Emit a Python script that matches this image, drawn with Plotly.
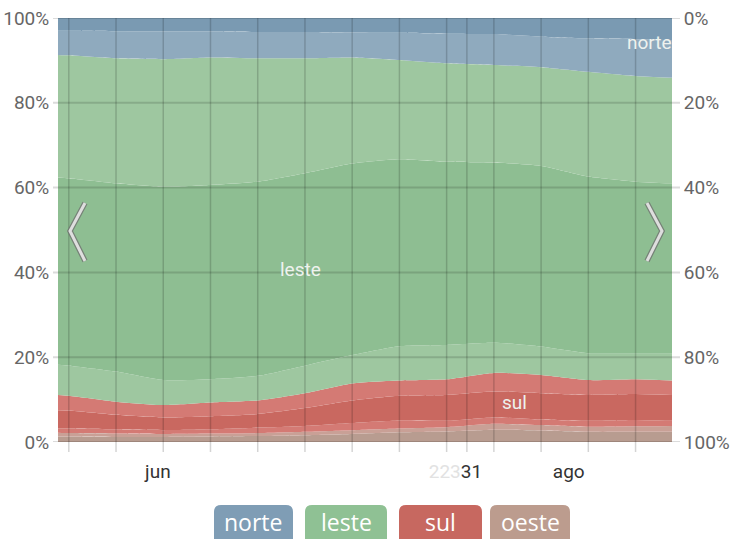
import plotly.graph_objects as go

# ---------------- data ----------------
# day offsets of the sampled points (x axis, days since the first sample)
dias = [0.0, 1.6, 8.6, 15.6, 22.6, 29.6, 36.6, 43.6, 50.6, 57.6, 64.6, 71.6, 78.6, 85.6, 91.0]

# upper boundary (%) of each band, from the bottom of the stack upwards
oeste_inf = [1.3, 1.3, 1.2, 1.2, 1.3, 1.4, 1.6, 1.9, 2.3, 2.5, 2.9, 2.7, 2.4, 2.4, 2.4]
oeste_sup = [2.2, 2.1, 2.0, 1.9, 2.0, 2.1, 2.4, 2.8, 3.2, 3.5, 4.3, 4.0, 3.6, 3.7, 3.8]
sul_inf = [3.2, 3.2, 3.0, 2.8, 3.0, 3.4, 3.8, 4.5, 5.1, 5.0, 5.8, 5.3, 5.0, 5.2, 5.0]
sul_med = [7.5, 7.4, 6.4, 5.8, 6.1, 6.6, 8.0, 9.8, 10.9, 11.1, 11.9, 11.5, 11.1, 11.3, 11.1]
sul_sup = [11.1, 10.9, 9.5, 8.7, 9.3, 9.8, 11.5, 13.8, 14.5, 14.8, 16.3, 15.8, 14.6, 14.8, 14.5]
leste_inf = [18.2, 18.0, 16.6, 14.6, 14.8, 15.6, 18.0, 20.5, 22.6, 22.9, 23.4, 22.5, 20.9, 20.8, 20.8]
leste_med = [62.4, 62.2, 61.0, 60.2, 60.6, 61.4, 63.4, 65.7, 66.7, 66.1, 65.9, 65.1, 62.6, 61.4, 61.0]
leste_sup = [91.3, 91.2, 90.5, 90.3, 90.7, 90.5, 90.5, 90.7, 90.1, 89.3, 88.9, 88.4, 87.3, 86.3, 85.9]
norte_inf = [97.0, 97.0, 96.9, 96.8, 96.8, 96.7, 96.7, 96.6, 96.5, 96.3, 96.2, 95.6, 95.2, 95.0, 94.8]
norte_sup = [100.0] * 15

# axis data
grid_dias = [1.6, 8.6, 15.6, 22.6, 29.6, 36.6, 43.6, 50.6, 57.6, 60.6, 64.6, 71.6, 78.6, 85.6]
rotulo_dias = [14.8, 58.9, 75.7]
rotulo_txt = ["jun", "<span style='color:#e2e2e2'>223</span>31", "ago"]
y_ticks = [0, 20, 40, 60, 80, 100]
y_txt_esq = ["0%", "20%", "40%", "60%", "80%", "100%"]
y_txt_dir = ["100%", "80%", "60%", "40%", "20%", "0%"]

categorias = ["norte", "leste", "sul", "oeste"]
cores_cat = ["#7f9db5", "#8fc194", "#c76860", "#bc9c8e"]

# in-chart labels
rot_cat = ["norte", "leste", "sul"]
rot_x = [87.7, 36.0, 67.7]
rot_y = [94.3, 40.6, 9.4]

# ---------------- figure ----------------
W, H = 733, 539
L, R, T, B = 58, 61, 18, 97
PW, PH = W - L - R, H - T - B


def px(x):
    return (x - L) / PW


def py(y):
    return (H - B - y) / PH


bandas = [
    (oeste_inf, "#b89c90"),
    (oeste_sup, "#c9a096"),
    (sul_inf, "#d47a74"),
    (sul_med, "#c96860"),
    (sul_sup, "#d47a74"),
    (leste_inf, "#9ec7a0"),
    (leste_med, "#8ebe92"),
    (leste_sup, "#9ec7a0"),
    (norte_inf, "#8faabe"),
    (norte_sup, "#7a9ab2"),
]

fig = go.Figure()
for i, (vals, cor) in enumerate(bandas):
    fig.add_trace(go.Scatter(
        x=dias, y=vals, mode="lines",
        line=dict(width=0, shape="spline", smoothing=0.6),
        fill="tozeroy" if i == 0 else "tonexty",
        fillcolor=cor, showlegend=False, hoverinfo="skip",
    ))

# dummy trace for the secondary axes
fig.add_trace(go.Scatter(x=[None], y=[None], xaxis="x2", yaxis="y2",
                         showlegend=False, hoverinfo="skip"))

NARROW = "Roboto, Liberation Sans, sans-serif"

shapes = []
for g in grid_dias:
    shapes.append(dict(type="line", xref="x", yref="paper", x0=g, x1=g,
                       y0=-10 / PH, y1=1, layer="above",
                       line=dict(color="rgba(0,0,0,0.17)", width=1.5)))
for v in y_ticks:
    shapes.append(dict(type="line", xref="paper", yref="y", x0=-5 / PW, x1=1 + 8 / PW,
                       y0=v, y1=v, layer="above",
                       line=dict(color="rgba(0,0,0,0.14)", width=2)))


def chevron(pts):
    d = "M {} {} L {} {} L {} {}".format(px(pts[0][0]), py(pts[0][1]),
                                         px(pts[1][0]), py(pts[1][1]),
                                         px(pts[2][0]), py(pts[2][1]))
    return [
        dict(type="path", xref="paper", yref="paper", path=d, layer="above",
             line=dict(color="rgba(110,110,110,0.75)", width=5.5)),
        dict(type="path", xref="paper", yref="paper", path=d, layer="above",
             line=dict(color="#dedede", width=3)),
    ]


shapes += chevron([(85, 203), (70, 231), (85, 261)])
shapes += chevron([(647, 203), (662, 231), (647, 261)])


def rrect(x0, x1, y0, y1, r=7):
    # rounded rectangle in pixels -> paper path
    rx, ry = r / PW, r / PH
    X0, X1, Y0, Y1 = px(x0), px(x1), py(y1), py(y0)  # Y0 bottom, Y1 top
    return ("M {a} {t} L {b} {t} Q {x1} {t} {x1} {tt} L {x1} {bb} Q {x1} {bo} {b} {bo} "
            "L {a} {bo} Q {x0} {bo} {x0} {bb} L {x0} {tt} Q {x0} {t} {a} {t} Z").format(
        a=X0 + rx, b=X1 - rx, t=Y1, tt=Y1 - ry, bo=Y0, bb=Y0 + ry, x0=X0, x1=X1)


botoes = [(214, 293), (305, 387), (399, 482), (490, 570)]
annotations = []
for (x0, x1), nome, cor in zip(botoes, categorias, cores_cat):
    shapes.append(dict(type="path", xref="paper", yref="paper",
                       path=rrect(x0, x1, 505, 548), fillcolor=cor,
                       line=dict(width=0), layer="above"))
    annotations.append(dict(xref="paper", yref="paper", x=px((x0 + x1) / 2), y=py(522),
                            text=nome, showarrow=False, xanchor="center", yanchor="middle",
                            font=dict(family="Open Sans, Noto Sans, sans-serif", size=23,
                                      color="#ffffff")))

for t, xx, yy in zip(rot_cat, rot_x, rot_y):
    annotations.append(dict(xref="x", yref="y", x=xx, y=yy, text=t, showarrow=False,
                            xanchor="center", yanchor="middle",
                            font=dict(family=NARROW, size=19, color="#eef2ee")))

xrange = [dias[0], dias[-1]]
fig.update_layout(
    width=W, height=H,
    margin=dict(l=L, r=R, t=T, b=B, pad=0, autoexpand=False),
    paper_bgcolor="white", plot_bgcolor="white",
    showlegend=False,
    shapes=shapes, annotations=annotations,
    xaxis=dict(range=xrange, showgrid=False, zeroline=False, showticklabels=False,
               showline=False, ticks="", automargin=False),
    xaxis2=dict(range=xrange, overlaying="x", anchor="y", side="bottom",
                tickmode="array", tickvals=rotulo_dias, ticktext=rotulo_txt,
                showgrid=False, zeroline=False, automargin=False,
                ticks="outside", ticklen=12, tickcolor="rgba(0,0,0,0)",
                tickfont=dict(family=NARROW, size=19, color="#333333")),
    yaxis=dict(range=[0, 100], tickmode="array", tickvals=y_ticks, ticktext=y_txt_esq,
               showgrid=False, zeroline=False, automargin=False,
               ticks="outside", ticklen=4, tickcolor="rgba(0,0,0,0)",
               tickfont=dict(family=NARROW, size=19, color="#666666")),
    yaxis2=dict(range=[0, 100], overlaying="y", side="right", anchor="x",
                tickmode="array", tickvals=y_ticks, ticktext=y_txt_dir,
                showgrid=False, zeroline=False, automargin=False,
                ticks="outside", ticklen=7, tickcolor="rgba(0,0,0,0)",
                tickfont=dict(family=NARROW, size=19, color="#666666")),
)

fig.write_html(
    "out.html",
    config={"displayModeBar": False},
    post_script="document.body.style.margin='0';document.body.style.padding='0';"
                "document.body.style.overflow='hidden';",
)
